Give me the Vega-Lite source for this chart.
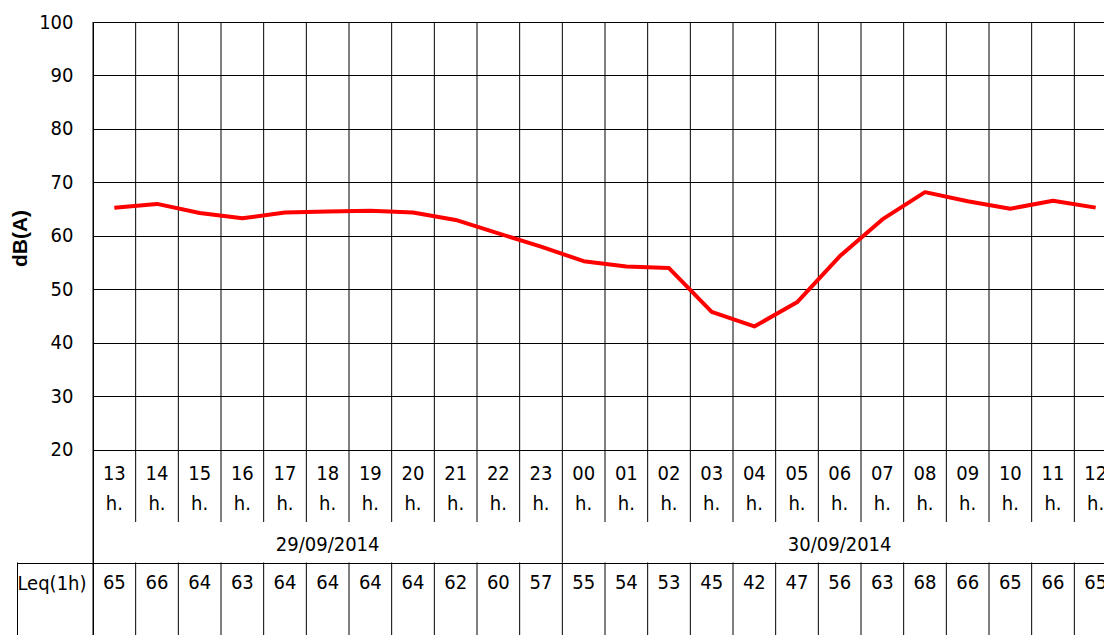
{
  "$schema": "https://vega.github.io/schema/vega-lite/v6.json",
  "autosize": {"type": "none"},
  "padding": {"left": 93, "top": 22, "right": 0, "bottom": 0},
  "width": 1011,
  "height": 613,
  "background": "white",
  "config": {
    "view": {"stroke": null},
    "text": {"font": "'Liberation Sans Narrow', 'DejaVu Sans Condensed', sans-serif", "fontSize": 20, "color": "#000000", "align": "center", "baseline": "alphabetic"}
  },
  "data": {
    "values": [
      {"hour": "13", "date": "29/09/2014", "level": 65.3, "leq": 65},
      {"hour": "14", "date": "29/09/2014", "level": 66.0, "leq": 66},
      {"hour": "15", "date": "29/09/2014", "level": 64.3, "leq": 64},
      {"hour": "16", "date": "29/09/2014", "level": 63.3, "leq": 63},
      {"hour": "17", "date": "29/09/2014", "level": 64.4, "leq": 64},
      {"hour": "18", "date": "29/09/2014", "level": 64.6, "leq": 64},
      {"hour": "19", "date": "29/09/2014", "level": 64.7, "leq": 64},
      {"hour": "20", "date": "29/09/2014", "level": 64.4, "leq": 64},
      {"hour": "21", "date": "29/09/2014", "level": 63.0, "leq": 62},
      {"hour": "22", "date": "29/09/2014", "level": 60.5, "leq": 60},
      {"hour": "23", "date": "29/09/2014", "level": 58.0, "leq": 57},
      {"hour": "00", "date": "30/09/2014", "level": 55.3, "leq": 55},
      {"hour": "01", "date": "30/09/2014", "level": 54.3, "leq": 54},
      {"hour": "02", "date": "30/09/2014", "level": 54.0, "leq": 53},
      {"hour": "03", "date": "30/09/2014", "level": 45.8, "leq": 45},
      {"hour": "04", "date": "30/09/2014", "level": 43.1, "leq": 42},
      {"hour": "05", "date": "30/09/2014", "level": 47.6, "leq": 47},
      {"hour": "06", "date": "30/09/2014", "level": 56.2, "leq": 56},
      {"hour": "07", "date": "30/09/2014", "level": 63.1, "leq": 63},
      {"hour": "08", "date": "30/09/2014", "level": 68.2, "leq": 68},
      {"hour": "09", "date": "30/09/2014", "level": 66.5, "leq": 66},
      {"hour": "10", "date": "30/09/2014", "level": 65.1, "leq": 65},
      {"hour": "11", "date": "30/09/2014", "level": 66.6, "leq": 66},
      {"hour": "12", "date": "30/09/2014", "level": 65.3, "leq": 65}
    ]
  },
  "resolve": {"axis": {"y": "independent"}},
  "layer": [
    {
      "mark": {"type": "rule", "color": "#000000", "strokeWidth": 1},
      "encoding": {
        "x": {"field": "hour", "type": "ordinal", "bandPosition": 0, "axis": null,
          "scale": {"type": "band", "domain": ["13","14","15","16","17","18","19","20","21","22","23","00","01","02","03","04","05","06","07","08","09","10","11","12"], "range": [0, 1024], "paddingInner": 0, "paddingOuter": 0}},
        "y": {"datum": 100, "type": "quantitative",
          "scale": {"domain": [-14.58, 100], "nice": false, "zero": false},
          "axis": {"orient": "left", "values": [-1.03], "labels": false, "ticks": true, "tickSize": 76, "tickColor": "#000000", "tickWidth": 1, "grid": true, "gridColor": "#000000", "gridOpacity": 1, "gridWidth": 1, "domain": false, "title": null}},
        "y2": {"datum": 6.54}
      }
    },
    {
      "mark": {"type": "rule", "color": "#000000", "strokeWidth": 1},
      "encoding": {
        "x": {"field": "hour", "type": "ordinal", "bandPosition": 0, "axis": null, "scale": {"type": "band"}},
        "y": {"datum": -1.03, "type": "quantitative",
          "axis": {"orient": "left", "values": [-1.03], "labels": true, "labelExpr": "''", "ticks": true, "tickSize": 0, "grid": false, "domain": true, "domainColor": "#000000", "domainOpacity": 1, "domainWidth": 1, "domainDash": [73, 1000], "offset": 76, "title": null}},
        "y2": {"datum": -14.58}
      }
    },
    {
      "transform": [{"filter": "datum.hour == '13' || datum.hour == '00'"}],
      "mark": {"type": "rule", "color": "#000000", "strokeWidth": 1},
      "encoding": {
        "x": {"field": "hour", "type": "ordinal", "bandPosition": 0, "axis": null, "scale": {"type": "band"}},
        "y": {"datum": 6.54, "type": "quantitative", "axis": null},
        "y2": {"datum": -1.03}
      }
    },
    {
      "mark": {"type": "line", "color": "#ff0000", "strokeWidth": 4, "strokeJoin": "round"},
      "encoding": {
        "x": {"field": "hour", "type": "ordinal", "bandPosition": 0.5, "axis": null, "scale": {"type": "band"}},
        "y": {"field": "level", "type": "quantitative",
          "axis": {"orient": "left", "values": [20, 30, 40, 50, 60, 70, 80, 90, 100], "grid": true, "gridColor": "#000000", "gridOpacity": 1, "gridWidth": 1,
            "domain": true, "domainColor": "#000000", "domainWidth": 1, "ticks": false, "labelPadding": 20,
            "labelFont": "'Liberation Sans Narrow', 'DejaVu Sans Condensed', sans-serif", "labelFontSize": 20, "labelColor": "#000000",
            "title": "dB(A)", "titleFont": "'Liberation Sans', Arial, sans-serif", "titleFontWeight": "bold", "titleFontSize": 21, "titleColor": "#000000",
            "titleAngle": 270, "titleX": -73, "titleY": 216, "titleAlign": "center", "titleBaseline": "middle"}}
      }
    },
    {
      "mark": {"type": "text"},
      "encoding": {
        "x": {"field": "hour", "type": "ordinal", "bandPosition": 0.5, "axis": null, "scale": {"type": "band"}},
        "y": {"datum": 14.39, "type": "quantitative", "axis": null},
        "text": {"field": "hour"}
      }
    },
    {
      "mark": {"type": "text"},
      "encoding": {
        "x": {"field": "hour", "type": "ordinal", "bandPosition": 0.5, "axis": null, "scale": {"type": "band"}},
        "y": {"datum": 8.79, "type": "quantitative", "axis": null},
        "text": {"value": "h."}
      }
    },
    {
      "transform": [{"filter": "datum.hour == '18' || datum.hour == '06'"}],
      "mark": {"type": "text"},
      "encoding": {
        "x": {"field": "hour", "type": "ordinal", "bandPosition": 0.5, "axis": null, "scale": {"type": "band"}},
        "y": {"datum": 1.21, "type": "quantitative", "axis": null},
        "text": {"field": "date"}
      }
    },
    {
      "mark": {"type": "text"},
      "encoding": {
        "x": {"field": "hour", "type": "ordinal", "bandPosition": 0.5, "axis": null, "scale": {"type": "band"}},
        "y": {"datum": -6.07, "type": "quantitative",
          "axis": {"orient": "left", "values": [-6.07], "labelExpr": "'Leq(1h)'", "labelPadding": 7, "labelBaseline": "alphabetic", "labelAlign": "right",
            "labelFont": "'Liberation Sans Narrow', 'DejaVu Sans Condensed', sans-serif", "labelFontSize": 20, "labelColor": "#000000",
            "ticks": false, "domain": false, "grid": false, "title": null}},
        "text": {"field": "leq"}
      }
    }
  ]
}
